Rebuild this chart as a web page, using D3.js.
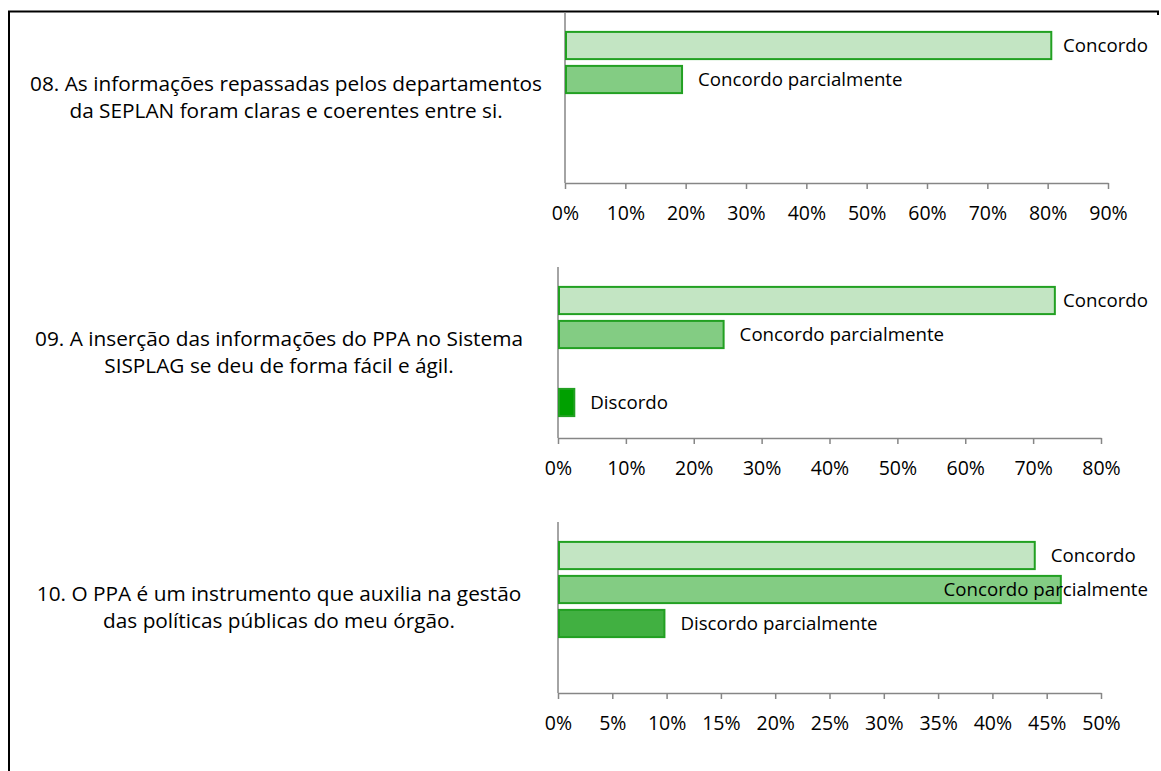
<!DOCTYPE html>
<html>
<head>
<meta charset="utf-8">
<script src="https://cdn.jsdelivr.net/npm/d3@7"></script>
<style>
  body { margin: 0; background: #fff; }
  svg { display: block; font-family: 'Open Sans', sans-serif; }
</style>
</head>
<body>
<svg></svg>
<script>
// answer options, top to bottom in every panel
const options = ['Concordo', 'Concordo parcialmente', 'Discordo parcialmente', 'Discordo']

const questions = [
  ['08. As informações repassadas pelos departamentos', 'da SEPLAN foram claras e coerentes entre si.'],
  ['09. A inserção das informações do PPA no Sistema', 'SISPLAG se deu de forma fácil e ágil.'],
  ['10. O PPA é um instrumento que auxilia na gestão', 'das políticas públicas do meu órgão.']
]

// percentages per option (null = no bar)
const values08 = [80.6, 19.4, null, null]
const values09 = [73.2, 24.4, null, 2.4]
const values10 = [43.9, 46.3, 9.8, null]

const axisMax = [90, 80, 50]
const tickStep = [10, 10, 5]

const colors = ['#c3e5c3', '#83cc83', '#41b041', '#00a000']

let width = 1161
let height = 771
let plotW = 543
let plotH = 171
let panelTop = [12, 267, 522]
let panelLeft = [565, 558, 558]
let labelLimit = 1148

const svg = d3.select('svg')
  .attr('width', width)
  .attr('height', height)

// frame
svg.append('path')
  .attr('d', `M9,${height} V11.5 H1158 V15`)
  .attr('fill', 'none')
  .attr('stroke', '#000')
  .attr('stroke-width', 2)

const allValues = [values08, values09, values10]

allValues.forEach((vals, i) => {
  let g = svg.append('g')
    .attr('transform', `translate(${panelLeft[i]}, ${panelTop[i]})`)

  let xScale = d3.scaleLinear()
    .domain([0, axisMax[i]])
    .range([0, plotW])

  let yScale = d3.scaleBand()
    .domain(options)
    .range([16.5, 152.5])
    .paddingInner(0.2)
    .paddingOuter(0.1)

  let xAxis = d3.axisBottom(xScale)
    .tickValues(d3.range(0, axisMax[i] + tickStep[i], tickStep[i]))
    .tickFormat(d => d + '%')
    .tickSize(6)
    .tickSizeOuter(0)
    .tickPadding(17)

  let ax = g.append('g')
    .attr('transform', `translate(0, ${plotH})`)
    .call(xAxis)
  ax.selectAll('line, path').attr('stroke', '#868686').attr('stroke-width', 1.5)
  ax.selectAll('text')
    .attr('fill', '#000')
    .style('font-size', '19.5px')
    .style('font-family', "'Open Sans', sans-serif")

  // value axis line on the left
  g.append('line')
    .attr('x1', 0).attr('x2', 0)
    .attr('y1', 0).attr('y2', plotH)
    .attr('stroke', '#868686')
    .attr('stroke-width', 1.5)

  let rows = options.map((o, k) => ({ option: o, value: vals[k], color: colors[k] }))
    .filter(d => d.value !== null)

  g.selectAll('rect.bar')
    .data(rows)
    .enter()
    .append('rect')
      .attr('class', 'bar')
      .attr('x', xScale(0) + 1)
      .attr('y', d => yScale(d.option))
      .attr('width', d => xScale(d.value) - xScale(0) - 1)
      .attr('height', yScale.bandwidth())
      .attr('fill', d => d.color)
      .attr('stroke', '#22a022')
      .attr('stroke-width', 2)

  g.selectAll('text.lbl')
    .data(rows)
    .enter()
    .append('text')
      .attr('class', 'lbl')
      .attr('y', d => yScale(d.option) + yScale.bandwidth() / 2)
      .attr('dy', '0.35em')
      .style('font-size', '18.7px')
      .text(d => d.option)
      .attr('x', function (d) {
        let w = this.getComputedTextLength()
        return Math.min(xScale(d.value) + 16, labelLimit - panelLeft[i] - w)
      })

  // question text, centred left of the chart
  let q = g.append('text')
    .attr('x', -279)
    .attr('y', plotH / 2)
    .style('text-anchor', 'middle')
    .style('font-size', '20.8px')
  q.selectAll('tspan')
    .data(questions[i])
    .enter()
    .append('tspan')
      .attr('x', -279)
      .attr('dy', (d, k) => k === 0 ? '-0.3em' : '1.3em')
      .text(d => d)
})
</script>
</body>
</html>
